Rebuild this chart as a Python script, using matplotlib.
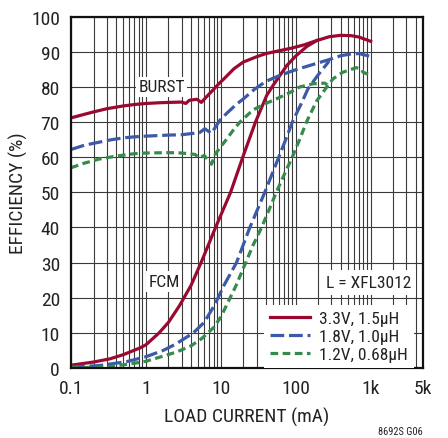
import matplotlib
matplotlib.use("Agg")
import matplotlib.pyplot as plt
from matplotlib.lines import Line2D
from matplotlib.ticker import FixedLocator, NullFormatter

plt.rcParams['font.family'] = ['Roboto Condensed', 'DejaVu Sans']

# ---- efficiency data: load current (mA) vs efficiency (%) ----
# 3.3V, 1.5uH
i_33_burst = [0.1, 0.15, 0.2, 0.3, 0.5, 0.7, 1, 1.5, 2, 3, 3.4, 3.8, 4.8, 5.5, 6.5, 8, 9.5,
              11, 15, 20, 30, 40, 60, 90, 130, 190, 280, 400, 550, 700, 1000]
e_33_burst = [71.2, 72.2, 72.9, 73.8, 74.6, 75.0, 75.3, 75.5, 75.6, 75.7, 75.3, 76.2, 76.5, 75.6,
              77.3, 79.3, 81.0, 82.3, 85.2, 87.1, 88.6, 89.5, 90.3, 91.1, 92.0, 93.2, 94.3, 94.7,
              94.6, 94.2, 93.0]
i_33_fcm = [0.1, 0.2, 0.33, 0.5, 0.83, 1, 1.5, 2, 2.8, 4, 5.5, 8.5, 10, 13.5, 20, 29, 41, 50,
            76, 100, 140, 190]
e_33_fcm = [0.8, 1.7, 2.6, 3.8, 5.7, 6.6, 10.0, 13.0, 17.7, 23.5, 30.2, 40.0, 43.5, 50.0, 60.5,
            70.0, 77.6, 80.5, 86.1, 88.8, 91.5, 93.2]

# 1.8V, 1.0uH
i_18_burst = [0.1, 0.15, 0.24, 0.35, 0.5, 0.7, 1, 2, 3, 5.2, 6.1, 7.5, 9.7, 12, 16, 20, 28, 40,
              60, 100, 170, 280, 400, 550, 700, 1000]
e_18_burst = [62.2, 63.4, 64.3, 65.0, 65.5, 65.8, 66.0, 66.3, 66.4, 67.0, 68.1, 66.8, 70.5, 72.5,
              75.0, 76.6, 79.3, 81.6, 83.2, 84.9, 86.4, 87.8, 88.9, 89.4, 89.5, 88.7]
i_18_fcm = [0.1, 0.24, 0.55, 1, 1.7, 2.5, 4.3, 6, 8.3, 11, 16.2, 24.4, 30, 38.6, 50, 59.3, 75,
            90, 120, 146, 200, 280]
e_18_fcm = [0.3, 0.7, 1.8, 3.2, 5.0, 6.8, 10.0, 13.0, 18.0, 23.5, 30.0, 40.0, 44.5, 50.0, 56.0,
            60.0, 65.5, 70.0, 75.5, 79.5, 83.5, 87.4]

# 1.2V, 0.68uH
i_12_burst = [0.1, 0.15, 0.24, 0.35, 0.5, 0.7, 1, 2, 3, 4.5, 5.2, 6.0, 7.5, 8.5, 10, 12, 15, 18,
              27, 40, 55, 80, 113, 170, 244, 270, 314, 427, 644, 760, 790, 1000]
e_12_burst = [57.0, 58.3, 59.5, 60.1, 60.6, 61.0, 61.2, 61.3, 61.2, 60.8, 59.8, 60.5, 58.0, 61.0,
              63.0, 65.2, 68.0, 70.0, 73.5, 75.3, 76.6, 78.2, 80.0, 80.9, 81.1, 80.4, 82.3, 84.2,
              85.5, 85.0, 84.2, 83.3]
i_12_fcm = [0.1, 0.2, 0.33, 0.68, 1, 1.9, 2.6, 4, 5.5, 8, 10, 12, 16, 21, 27, 35, 45, 55, 70,
            92, 115, 139, 190, 256, 270]
e_12_fcm = [0.05, 0.2, 0.4, 1.3, 1.9, 3.7, 4.6, 6.3, 8.3, 11.5, 14.5, 18.0, 23.5, 29.5, 35.0,
            40.0, 45.5, 50.0, 55.0, 60.5, 65.5, 70.0, 76.0, 79.8, 80.4]

series_labels = ['3.3V, 1.5µH', '1.8V, 1.0µH', '1.2V, 0.68µH']

x_ticks = [0.1, 1, 10, 100, 1000, 5000]
x_tick_labels = ['0.1', '1', '10', '100', '1k', '5k']
y_ticks = [0, 10, 20, 30, 40, 50, 60, 70, 80, 90, 100]

# ---- styling ----
RED = '#9a0a30'
BLUE = '#3d5aa8'
GREEN = '#368a4c'
TEXT = '#222222'
LW = 2.3
BLUE_DASH = (4.3, 1.5)
GREEN_DASH = (2.4, 1.4)

fig = plt.figure(figsize=(4.48, 4.39), dpi=100)
ax = fig.add_axes([71 / 448, 1 - 369 / 439, 352 / 448, 351.3 / 439])
ax.set_xscale('log')
ax.set_xlim(0.1, 5000)
ax.set_ylim(0, 100)

minor = [m * 10.0 ** d for d in range(-1, 3) for m in range(2, 10)] + [2000, 3000, 4000]
ax.xaxis.set_major_locator(FixedLocator(x_ticks))
ax.set_xticklabels(x_tick_labels)
ax.xaxis.set_minor_locator(FixedLocator(minor))
ax.xaxis.set_minor_formatter(NullFormatter())
ax.set_yticks(y_ticks)
ax.set_axisbelow(True)
ax.grid(which='both', color='#3a3a3a', lw=0.8)
ax.tick_params(which='both', length=0, labelsize=14, pad=8, colors=TEXT)
for sp in ax.spines.values():
    sp.set_linewidth(1.6)
    sp.set_color('#111111')

ax.plot(i_33_burst, e_33_burst, color=RED, lw=LW)
ax.plot(i_33_fcm, e_33_fcm, color=RED, lw=LW)
ax.plot(i_18_burst, e_18_burst, color=BLUE, lw=LW, dashes=BLUE_DASH)
ax.plot(i_18_fcm, e_18_fcm, color=BLUE, lw=LW, dashes=BLUE_DASH)
ax.plot(i_12_burst, e_12_burst, color=GREEN, lw=LW, dashes=GREEN_DASH)
ax.plot(i_12_fcm, e_12_fcm, color=GREEN, lw=LW, dashes=GREEN_DASH)

box = dict(boxstyle='square,pad=0.15', fc='white', ec='none')
ax.text(1.62, 80, 'BURST', fontsize=12.5, ha='center', va='center', bbox=box, color=TEXT)
ax.text(1.75, 24.6, 'FCM', fontsize=12.5, ha='center', va='center', bbox=box, color=TEXT)

ax.set_xlabel('LOAD CURRENT (mA)', fontsize=14, labelpad=7, color=TEXT)
ax.set_ylabel('EFFICIENCY (%)', fontsize=14, labelpad=2, color=TEXT)

handles = [Line2D([], [], color=RED, lw=LW),
           Line2D([], [], color=BLUE, lw=LW, dashes=BLUE_DASH),
           Line2D([], [], color=GREEN, lw=LW, dashes=GREEN_DASH)]
leg = ax.legend(handles, series_labels, loc='lower left', bbox_to_anchor=(0.548, 0.0),
                fontsize=12.5, frameon=True, fancybox=False, framealpha=1,
                handlelength=2.3, handletextpad=0.55, labelspacing=0.15,
                borderpad=0.35, borderaxespad=0)
leg.get_frame().set_facecolor('white')
leg.get_frame().set_edgecolor('none')
for t in leg.get_texts():
    t.set_color(TEXT)

ax.text(0.966, 0.244, 'L = XFL3012', transform=ax.transAxes, fontsize=12.5, ha='right',
        va='center', color=TEXT,
        bbox=dict(boxstyle='square,pad=0.3', fc='white', ec='none'), zorder=6)

fig.text(423 / 448, 1 - 432 / 439, '8692S G06', fontsize=7.5, ha='right', va='center',
         color=TEXT)

fig.savefig('out.png', dpi=100)
